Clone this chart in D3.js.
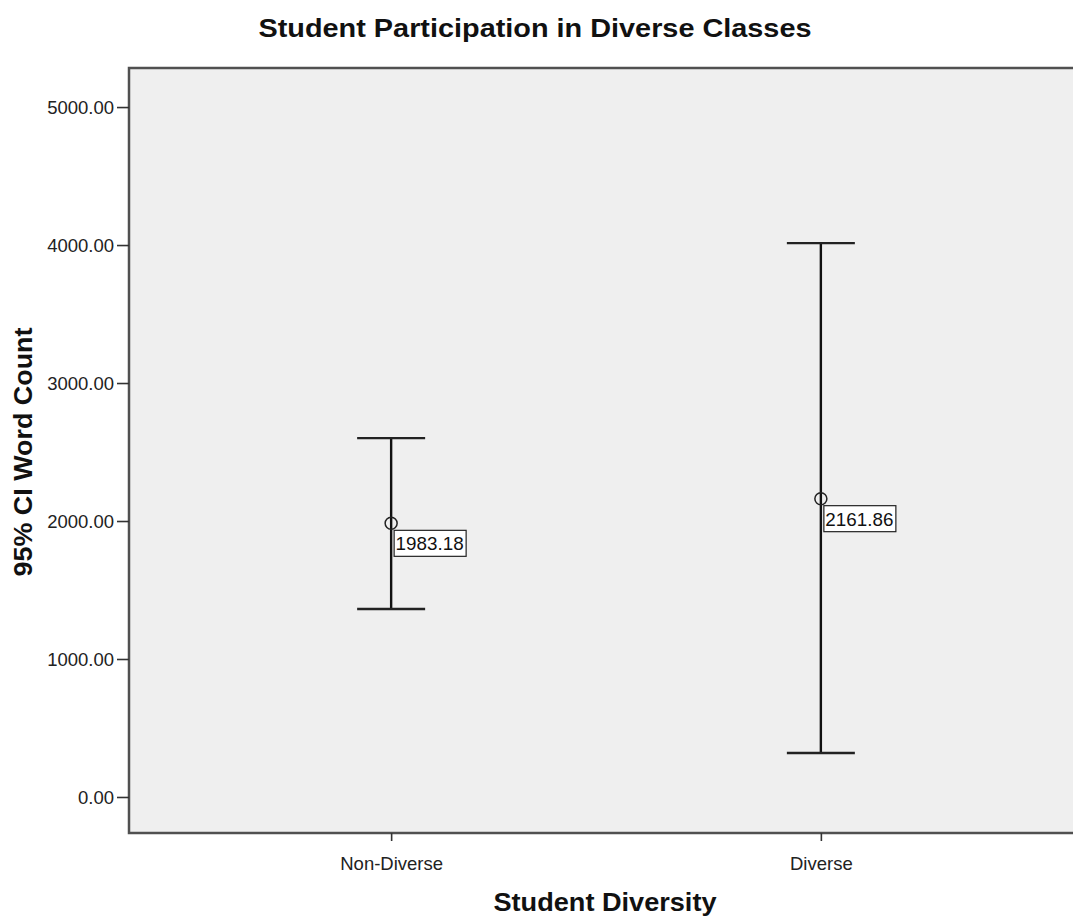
<!DOCTYPE html>
<html>
<head>
<meta charset="utf-8">
<script src="https://cdn.jsdelivr.net/npm/d3@7"></script>
<style>
  body { margin: 0; background: #fff; }
  svg { display: block; font-family: "Liberation Sans", Arial, sans-serif; }
</style>
</head>
<body>
<svg id="chart" width="1073" height="917"></svg>
<script>
const categories = ["Non-Diverse", "Diverse"];
const means = [1983.18, 2161.86];
const lowerCI = [1362, 319];
const upperCI = [2601, 4014];
const yTicks = [0, 1000, 2000, 3000, 4000, 5000];

const svg = d3.select("#chart");
const pLeft = 129, pRight = 1083, pTop = 68, pBottom = 833;
const FONT = "Liberation Sans, Arial, sans-serif";

const x = d3.scalePoint().domain(categories).range([pLeft, pRight]).padding(0.61);
const y = d3.scaleLinear().domain([-261, 5283]).range([pBottom, pTop]);

// plot background
svg.append("rect").attr("x", pLeft).attr("y", pTop)
  .attr("width", pRight - pLeft).attr("height", pBottom - pTop)
  .attr("fill", "#efefef").attr("stroke", "#505050").attr("stroke-width", 2.5);

// y axis
const yAxis = svg.append("g").attr("transform", `translate(${pLeft},0)`)
  .call(d3.axisLeft(y).tickValues(yTicks).tickFormat(d3.format(".2f")).tickSize(12).tickPadding(3));
yAxis.select(".domain").remove();
yAxis.selectAll("line").attr("stroke", "#333").attr("stroke-width", 1.6);
yAxis.selectAll("text").attr("font-size", 18.5).attr("fill", "#222")
  .attr("font-family", FONT).attr("dy", "0.35em");

// x axis
const xAxis = svg.append("g").attr("transform", `translate(0,${pBottom})`)
  .call(d3.axisBottom(x).tickSize(8).tickPadding(16));
xAxis.select(".domain").remove();
xAxis.selectAll("line").attr("stroke", "#333").attr("stroke-width", 1.6);
xAxis.selectAll("text").attr("font-size", 18.5).attr("fill", "#222")
  .attr("font-family", FONT);

// error bars
const capHalf = 34;
const data = categories.map((c, i) => ({ c, m: means[i], lo: lowerCI[i], hi: upperCI[i] }));
const g = svg.append("g");
data.forEach(d => {
  const cx = x(d.c);
  g.append("line").attr("x1", cx).attr("x2", cx).attr("y1", y(d.hi)).attr("y2", y(d.lo))
    .attr("stroke", "#111").attr("stroke-width", 2.4);
  [d.hi, d.lo].forEach(v => {
    g.append("line").attr("x1", cx - capHalf).attr("x2", cx + capHalf).attr("y1", y(v)).attr("y2", y(v))
      .attr("stroke", "#222").attr("stroke-width", 2.4);
  });
  g.append("circle").attr("cx", cx).attr("cy", y(d.m)).attr("r", 6)
    .attr("fill", "none").attr("stroke", "#222").attr("stroke-width", 1.5);
  const bx = cx + 3, by = y(d.m) + 7;
  g.append("rect").attr("x", bx).attr("y", by).attr("width", 72).attr("height", 26)
    .attr("fill", "#fff").attr("stroke", "#222").attr("stroke-width", 1.2);
  g.append("text").attr("x", bx + 1.5).attr("y", by + 20)
    .attr("font-size", 18.5).attr("fill", "#111").attr("textLength", 68)
    .attr("lengthAdjust", "spacingAndGlyphs").text(d.m.toFixed(2));
});

// titles
svg.append("text").attr("x", 535).attr("y", 37).attr("text-anchor", "middle")
  .attr("font-size", 26).attr("font-weight", "bold").attr("fill", "#111")
  .attr("textLength", 553).attr("lengthAdjust", "spacingAndGlyphs")
  .text("Student Participation in Diverse Classes");
svg.append("text").attr("x", 605).attr("y", 911).attr("text-anchor", "middle")
  .attr("font-size", 26).attr("font-weight", "bold").attr("fill", "#111")
  .attr("textLength", 223).attr("lengthAdjust", "spacingAndGlyphs")
  .text("Student Diversity");
svg.append("text").attr("transform", "translate(32,452) rotate(-90)").attr("text-anchor", "middle")
  .attr("font-size", 26).attr("font-weight", "bold").attr("fill", "#111")
  .attr("textLength", 249).attr("lengthAdjust", "spacingAndGlyphs")
  .text("95% CI Word Count");
</script>
</body>
</html>
